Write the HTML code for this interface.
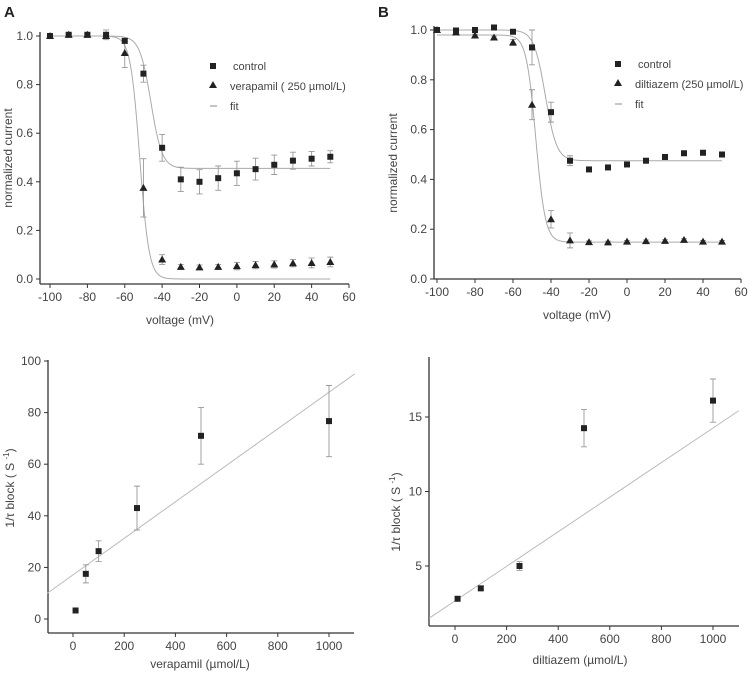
<!DOCTYPE html>
<html><head><meta charset="utf-8"><style>
body{margin:0;background:#fff;}
svg{display:block;font-family:"Liberation Sans",sans-serif;}
text{fill:#444;}
</style></head><body>
<svg id="fig" width="750" height="673" viewBox="0 0 750 673">
<text x="4" y="17" font-size="15" font-weight="bold" style="fill:#222">A</text>
<text x="378" y="17" font-size="15" font-weight="bold" style="fill:#222">B</text>
</svg>
<script>
const voltages=[-100,-90,-80,-70,-60,-50,-40,-30,-20,-10,0,10,20,30,40,50];
const aControl=[1.0,1.005,1.005,1.005,0.98,0.845,0.54,0.41,0.40,0.415,0.435,0.452,0.47,0.487,0.495,0.503];
const aControlErr=[0.005,0.005,0.005,0.02,0.01,0.035,0.055,0.05,0.05,0.05,0.05,0.045,0.04,0.035,0.03,0.025];
const aVera=[1.0,1.005,1.005,1.0,0.93,0.375,0.08,0.05,0.048,0.05,0.053,0.057,0.06,0.065,0.066,0.07];
const aVeraErr=[0.005,0.005,0.005,0.005,0.06,0.12,0.02,0.01,0.01,0.01,0.015,0.015,0.015,0.015,0.02,0.02];
const bControl=[1.0,0.998,1.0,1.01,0.993,0.93,0.67,0.475,0.44,0.448,0.46,0.475,0.49,0.505,0.507,0.50];
const bControlErr=[0.005,0.01,0.005,0.005,0.005,0.07,0.04,0.02,0.005,0.005,0.005,0.005,0.005,0.005,0.005,0.005];
const bDilt=[1.0,0.99,0.978,0.97,0.95,0.70,0.24,0.155,0.148,0.147,0.15,0.152,0.153,0.157,0.15,0.15];
const bDiltErr=[0.005,0.01,0.005,0.005,0.012,0.06,0.035,0.03,0.005,0.005,0.005,0.005,0.005,0.005,0.005,0.005];
// Boltzmann fit params: [top, bottom, vHalf, slope]
const fitAControl=[1.0,0.455,-46,3];
const fitAVera=[1.0,0.0,-52,2.5];
const fitBControl=[1.0,0.475,-43,3];
const fitBDilt=[0.98,0.148,-48,2.5];
const vTicks=[-100,-80,-60,-40,-20,0,20,40,60];
const iTicks=[0,0.2,0.4,0.6,0.8,1.0];
const veraConc=[10,50,100,250,500,1000];
const veraRate=[3.3,17.5,26.3,43,71,76.7];
const veraRateErr=[0,3.5,4,8.5,11,13.8];
const veraFit=[17.1,0.0708]; // intercept, slope
const diltConc=[10,100,250,500,1000];
const diltRate=[2.8,3.5,5.0,14.25,16.1];
const diltRateErr=[0,0,0.3,1.25,1.45];
const diltFit=[2.66,0.0116];
const concTicks=[0,200,400,600,800,1000];
const veraTicks=[0,20,40,60,80,100];
const diltTicks=[5,10,15];

const NS="http://www.w3.org/2000/svg";
const svg=document.getElementById('fig');
function mk(tag,attrs,parent){const e=document.createElementNS(NS,tag);for(const k in attrs)e.setAttribute(k,attrs[k]);(parent||svg).appendChild(e);return e;}
function scale(d0,d1,r0,r1){return v=>r0+(v-d0)/(d1-d0)*(r1-r0);}

function axes(p){
  const g=mk('g',{});
  
  
  mk('line',{x1:p.x0,y1:p.yTop,x2:p.x0,y2:p.yBot,stroke:'#333','stroke-width':1.3},g);
  mk('line',{x1:p.x0,y1:p.yBot,x2:p.xRight,y2:p.yBot,stroke:'#333','stroke-width':1.3},g);
  p.xt.forEach(v=>{const x=p.sx(v);
    mk('line',{x1:x,y1:p.yBot,x2:x,y2:p.yBot+4,stroke:'#333'},g);
    const t=mk('text',{x:x,y:p.yBot+17,'font-size':12,'text-anchor':'middle'},g);t.textContent=v;
    
    });
  p.yt.forEach(v=>{const y=p.sy(v);
    mk('line',{x1:p.x0-4,y1:y,x2:p.x0,y2:y,stroke:'#333'},g);
    const t=mk('text',{x:p.x0-7,y:y+4,'font-size':12,'text-anchor':'end'},g);t.textContent=p.fmt?p.fmt(v):v;
    
    });
  const xl=mk('text',{x:p.xlx,y:p.xly,'font-size':12,'text-anchor':'middle'},g);xl.textContent=p.xlabel;
  
  
  const yl=mk('text',{x:0,y:0,'font-size':12,'text-anchor':'middle',transform:`translate(${p.ylx},${p.yly}) rotate(-90)`},g);
  yl.innerHTML=p.ylabel;
  
  
}
function errbars(xs,ys,es,sx,sy,name){
  const g=mk('g',{});
  
  
  xs.forEach((v,i)=>{if(!es[i])return;const x=sx(v),y1=sy(ys[i]-es[i]),y2=sy(ys[i]+es[i]);
    mk('path',{d:`M${x},${y1}V${y2}M${x-3},${y1}H${x+3}M${x-3},${y2}H${x+3}`,stroke:'#999',fill:'none','stroke-width':0.9},g);});
}
function squares(xs,ys,sx,sy,name){
  const g=mk('g',{});
  
  
  xs.forEach((v,i)=>{const r=mk('rect',{x:sx(v)-3,y:sy(ys[i])-3,width:6,height:6,fill:'#222'},g);
    
    });
}
function triangles(xs,ys,sx,sy,name){
  const g=mk('g',{});
  
  
  xs.forEach((v,i)=>{const x=sx(v),y=sy(ys[i]);const t=mk('path',{d:`M${x},${y-4}L${x+4},${y+3}L${x-4},${y+3}Z`,fill:'#222'},g);
    
    });
}
function boltz(par,sx,sy,name){
  let d='';for(let v=-100;v<=50;v+=0.5){const y=par[1]+(par[0]-par[1])/(1+Math.exp((v-par[2])/par[3]));d+=(d?'L':'M')+sx(v).toFixed(2)+','+sy(y).toFixed(2);}
  const p=mk('path',{d:d,fill:'none',stroke:'#aaa','stroke-width':1});
  
  
}
function linefit(par,x0,x1,sx,sy,name){
  const p=mk('line',{x1:sx(x0),y1:sy(par[0]+par[1]*x0),x2:sx(x1),y2:sy(par[0]+par[1]*x1),stroke:'#bbb','stroke-width':1});
  
  
}
function legend(x,y,txt2,name){
  const g=mk('g',{});
  
  
  mk('rect',{x:x-3,y:y-3,width:6,height:6,fill:'#222'},g);
  let t=mk('text',{x:x+20,y:y+4,'font-size':11},g);t.textContent='control';
  mk('path',{d:`M${x},${y+15}L${x+4},${y+22}L${x-4},${y+22}Z`,fill:'#222'},g);
  t=mk('text',{x:x+17,y:y+24,'font-size':11},g);t.textContent=txt2;
  mk('line',{x1:x-3,y1:y+40,x2:x+4,y2:y+40,stroke:'#888'},g);
  t=mk('text',{x:x+17,y:y+44,'font-size':11},g);t.textContent='fit';
}

// Panel A
{const sx=scale(-100,60,50,349),sy=scale(0,1,279,36);
 axes({name:'panel-a',x0:40,xRight:349,yTop:32,yBot:284,sx,sy,xt:vTicks,yt:iTicks,fmt:v=>v.toFixed(1),
  xlabel:'voltage (mV)',xlx:180,xly:324,ylabel:'normalized current',ylx:12,yly:158});
 boltz(fitAControl,sx,sy,'fit-a-control');boltz(fitAVera,sx,sy,'fit-a-verapamil');
 errbars(voltages,aControl,aControlErr,sx,sy,'errors-a-control');errbars(voltages,aVera,aVeraErr,sx,sy,'errors-a-verapamil');
 squares(voltages,aControl,sx,sy,'series-a-control');triangles(voltages,aVera,sx,sy,'series-a-verapamil');
 legend(213,66,'verapamil ( 250 µmol/L)','legend-a');}
// Panel B
{const sx=scale(-100,60,437,741),sy=scale(0,1,279,30);
 axes({name:'panel-b',x0:434,xRight:741,yTop:26,yBot:279,sx,sy,xt:vTicks,yt:iTicks,fmt:v=>v.toFixed(1),
  xlabel:'voltage (mV)',xlx:577,xly:319,ylabel:'normalized current',ylx:397,yly:163});
 boltz(fitBControl,sx,sy,'fit-b-control');boltz(fitBDilt,sx,sy,'fit-b-diltiazem');
 errbars(voltages,bControl,bControlErr,sx,sy,'errors-b-control');errbars(voltages,bDilt,bDiltErr,sx,sy,'errors-b-diltiazem');
 squares(voltages,bControl,sx,sy,'series-b-control');triangles(voltages,bDilt,sx,sy,'series-b-diltiazem');
 legend(618,64,'diltiazem (250 µmol/L)','legend-b');}
// Panel C
{const sx=scale(0,1000,73,329),sy=scale(0,100,619,361);
 axes({name:'panel-c',x0:48,xRight:354,yTop:360,yBot:633,sx,sy,xt:concTicks,yt:veraTicks,
  xlabel:'verapamil (µmol/L)',xlx:200,xly:668,ylabel:'1/τ  block ( S <tspan dy="-5" font-size="8">-1</tspan><tspan dy="5">)</tspan>',ylx:14,yly:488});
 linefit(veraFit,-100,1100,sx,sy,'fit-c-verapamil');
 errbars(veraConc,veraRate,veraRateErr,sx,sy,'errors-c');squares(veraConc,veraRate,sx,sy,'series-c-verapamil');}
// Panel D
{const sx=scale(0,1000,455,713),sy=scale(5,15,566,417);
 axes({name:'panel-d',x0:429,xRight:739,yTop:357,yBot:626,sx,sy,xt:concTicks,yt:diltTicks,
  xlabel:'diltiazem (µmol/L)',xlx:580,xly:664,ylabel:'1/τ  block ( S <tspan dy="-5" font-size="8">-1</tspan><tspan dy="5">)</tspan>',ylx:400,yly:512});
 linefit(diltFit,-100,1100,sx,sy,'fit-d-diltiazem');
 errbars(diltConc,diltRate,diltRateErr,sx,sy,'errors-d');squares(diltConc,diltRate,sx,sy,'series-d-diltiazem');}
</script>
</body></html>
